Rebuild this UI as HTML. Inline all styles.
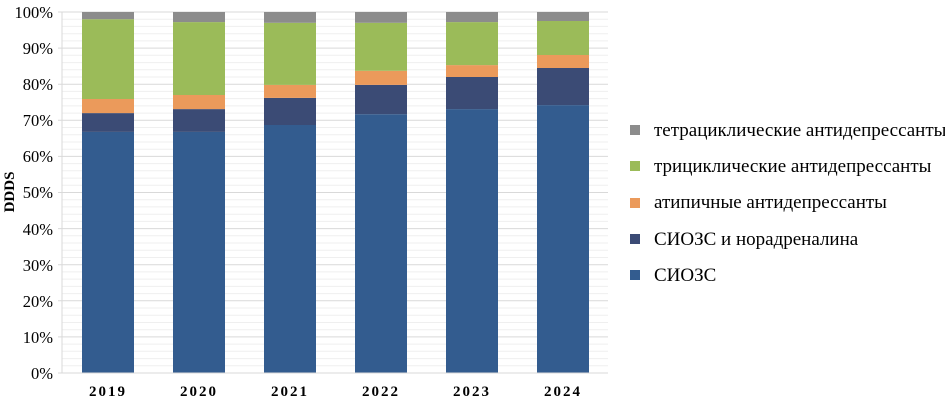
<!DOCTYPE html>
<html><head><meta charset="utf-8"><style>body{margin:0;background:#fff}svg{display:block}text{font-family:"Liberation Serif",serif}</style></head>
<body>
<svg width="945" height="402" viewBox="0 0 945 402" xmlns="http://www.w3.org/2000/svg">
<path stroke="#efefef" fill="none" d="M62 365.8H608M62 358.6H608M62 351.3H608M62 344.1H608M62 329.7H608M62 322.5H608M62 315.2H608M62 308H608M62 293.6H608M62 286.4H608M62 279.1H608M62 271.9H608M62 257.5H608M62 250.3H608M62 243H608M62 235.8H608M62 221.4H608M62 214.2H608M62 206.9H608M62 199.7H608M62 185.3H608M62 178.1H608M62 170.8H608M62 163.6H608M62 149.2H608M62 142H608M62 134.7H608M62 127.5H608M62 113.1H608M62 105.9H608M62 98.6H608M62 91.4H608M62 77H608M62 69.8H608M62 62.6H608M62 55.3H608M62 40.9H608M62 33.7H608M62 26.4H608M62 19.2H608"/>
<path stroke="#d9d9d9" fill="none" d="M58 336.9H608M58 300.8H608M58 264.7H608M58 228.6H608M58 192.5H608M58 156.4H608M58 120.3H608M58 84.2H608M58 48.1H608M58 12H608"/>
<g>
<rect x="82" y="131.9" width="52" height="241.1" fill="#335c8f"/><rect x="82" y="113.1" width="52" height="18.8" fill="#3b4b75"/><rect x="82" y="99" width="52" height="14.1" fill="#eb9a5b"/><rect x="82" y="19.2" width="52" height="79.8" fill="#9bbb59"/><rect x="82" y="12" width="52" height="7.2" fill="#8c8c8c"/>
<rect x="173" y="131.9" width="52" height="241.1" fill="#335c8f"/><rect x="173" y="109.1" width="52" height="22.8" fill="#3b4b75"/><rect x="173" y="95" width="52" height="14.1" fill="#eb9a5b"/><rect x="173" y="22.1" width="52" height="72.9" fill="#9bbb59"/><rect x="173" y="12" width="52" height="10.1" fill="#8c8c8c"/>
<rect x="264" y="125" width="52" height="248" fill="#335c8f"/><rect x="264" y="97.9" width="52" height="27.1" fill="#3b4b75"/><rect x="264" y="84.9" width="52" height="13" fill="#eb9a5b"/><rect x="264" y="22.8" width="52" height="62.1" fill="#9bbb59"/><rect x="264" y="12" width="52" height="10.8" fill="#8c8c8c"/>
<rect x="355" y="114.2" width="52" height="258.8" fill="#335c8f"/><rect x="355" y="84.9" width="52" height="29.3" fill="#3b4b75"/><rect x="355" y="70.8" width="52" height="14.1" fill="#eb9a5b"/><rect x="355" y="22.8" width="52" height="48" fill="#9bbb59"/><rect x="355" y="12" width="52" height="10.8" fill="#8c8c8c"/>
<rect x="446" y="109.1" width="52" height="263.9" fill="#335c8f"/><rect x="446" y="77" width="52" height="32.1" fill="#3b4b75"/><rect x="446" y="65.1" width="52" height="11.9" fill="#eb9a5b"/><rect x="446" y="22.1" width="52" height="43" fill="#9bbb59"/><rect x="446" y="12" width="52" height="10.1" fill="#8c8c8c"/>
<rect x="537" y="105.1" width="52" height="267.9" fill="#335c8f"/><rect x="537" y="68" width="52" height="37.1" fill="#3b4b75"/><rect x="537" y="55" width="52" height="13" fill="#eb9a5b"/><rect x="537" y="21" width="52" height="34" fill="#9bbb59"/><rect x="537" y="12" width="52" height="9" fill="#8c8c8c"/>
</g>
<line x1="62" y1="12" x2="62" y2="373" stroke="#d9d9d9"/>
<line x1="58" y1="373" x2="608" y2="373" stroke="#d9d9d9"/>
<g font-size="16.5" text-anchor="end" fill="#000">
<text x="53" y="18">100%</text><text x="53" y="54">90%</text><text x="53" y="90">80%</text><text x="53" y="126">70%</text><text x="53" y="162">60%</text><text x="53" y="198">50%</text><text x="53" y="235">40%</text><text x="53" y="271">30%</text><text x="53" y="307">20%</text><text x="53" y="343">10%</text><text x="53" y="379">0%</text>
</g>
<text transform="translate(14,192) rotate(-90)" font-size="15" font-weight="bold" text-anchor="middle">DDDS</text>
<g font-size="15" font-weight="bold" text-anchor="middle" letter-spacing="2">
<text x="108" y="396">2019</text><text x="199" y="396">2020</text><text x="290" y="396">2021</text><text x="381" y="396">2022</text><text x="472" y="396">2023</text><text x="563" y="396">2024</text>
</g>
<g font-size="19">
<rect x="630" y="125" width="10" height="10" fill="#8c8c8c"/><text x="654" y="136">тетрациклические антидепрессанты</text>
<rect x="630" y="161" width="10" height="10" fill="#9bbb59"/><text x="654" y="172">трициклические антидепрессанты</text>
<rect x="630" y="198" width="10" height="10" fill="#eb9a5b"/><text x="654" y="208">атипичные антидепрессанты</text>
<rect x="630" y="234" width="10" height="10" fill="#3b4b75"/><text x="654" y="245">СИОЗС и норадреналина</text>
<rect x="630" y="270" width="10" height="10" fill="#335c8f"/><text x="654" y="281">СИОЗС</text>
</g>
</svg>
</body></html>
